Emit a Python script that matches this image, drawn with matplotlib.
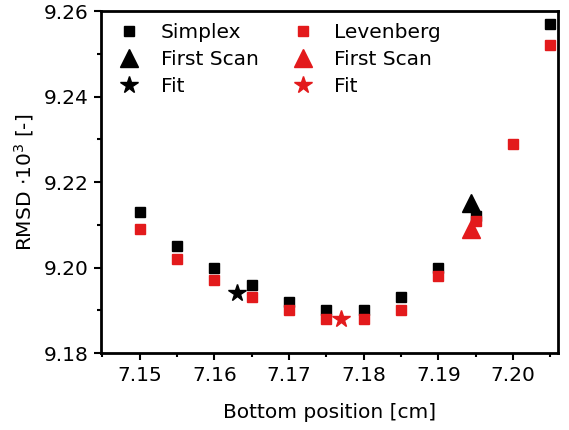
import matplotlib
matplotlib.use("Agg")
import matplotlib.pyplot as plt
from matplotlib.ticker import MultipleLocator, FormatStrFormatter

positions = [7.150, 7.155, 7.160, 7.165, 7.170, 7.175, 7.180, 7.185, 7.190, 7.195, 7.200, 7.205]
simplex = [9.213, 9.205, 9.200, 9.196, 9.192, 9.190, 9.190, 9.193, 9.200, 9.212, None, 9.257]
levenberg = [9.209, 9.202, 9.197, 9.193, 9.190, 9.188, 9.188, 9.190, 9.198, 9.211, 9.229, 9.252]
simplex_first = (7.1943, 9.215)
simplex_fit = (7.163, 9.194)
leven_first = (7.1943, 9.209)
leven_fit = (7.177, 9.188)

black = "#000000"
red = "#e31a1c"

fig, ax = plt.subplots(figsize=(5.69, 4.30), dpi=100)
fig.subplots_adjust(left=0.178, right=0.980, top=0.974, bottom=0.179)

sx = [p for p, v in zip(positions, simplex) if v is not None]
sy = [v for v in simplex if v is not None]
ax.plot(sx, sy, 's', color=black, ms=6.5, ls='none', label='Simplex')
ax.plot(*simplex_first, '^', color=black, ms=13, ls='none', label='First Scan')
ax.plot(*simplex_fit, '*', color=black, ms=13, ls='none', label='Fit')
ax.plot(positions, levenberg, 's', color=red, ms=6.5, ls='none', label='Levenberg')
ax.plot(*leven_first, '^', color=red, ms=13, ls='none', label='First Scan')
ax.plot(*leven_fit, '*', color=red, ms=13, ls='none', label='Fit')

ax.set_xlim(7.14484, 7.20597)
ax.set_ylim(9.18, 9.26)
ax.xaxis.set_major_locator(MultipleLocator(0.01))
ax.xaxis.set_minor_locator(MultipleLocator(0.005))
ax.yaxis.set_major_locator(MultipleLocator(0.02))
ax.yaxis.set_minor_locator(MultipleLocator(0.01))
ax.xaxis.set_major_formatter(FormatStrFormatter('%.2f'))
ax.yaxis.set_major_formatter(FormatStrFormatter('%.2f'))
ax.tick_params(which='major', direction='out', length=5, width=1.5, labelsize=14.5, pad=4)
ax.tick_params(which='minor', direction='out', length=3, width=1.5)
for s in ax.spines.values():
    s.set_linewidth(2)

ax.set_xlabel('Bottom position [cm]', fontsize=14.5, labelpad=13)
ax.set_ylabel('RMSD $\\cdot 10^3$ [-]', fontsize=14.5, labelpad=6)

ax.legend(ncol=2, loc='upper left', frameon=False, fontsize=14.5,
          handletextpad=0.75, columnspacing=1.4, borderaxespad=0.2,
          labelspacing=0.4, handlelength=1.6)

fig.savefig('out.png', dpi=100)
